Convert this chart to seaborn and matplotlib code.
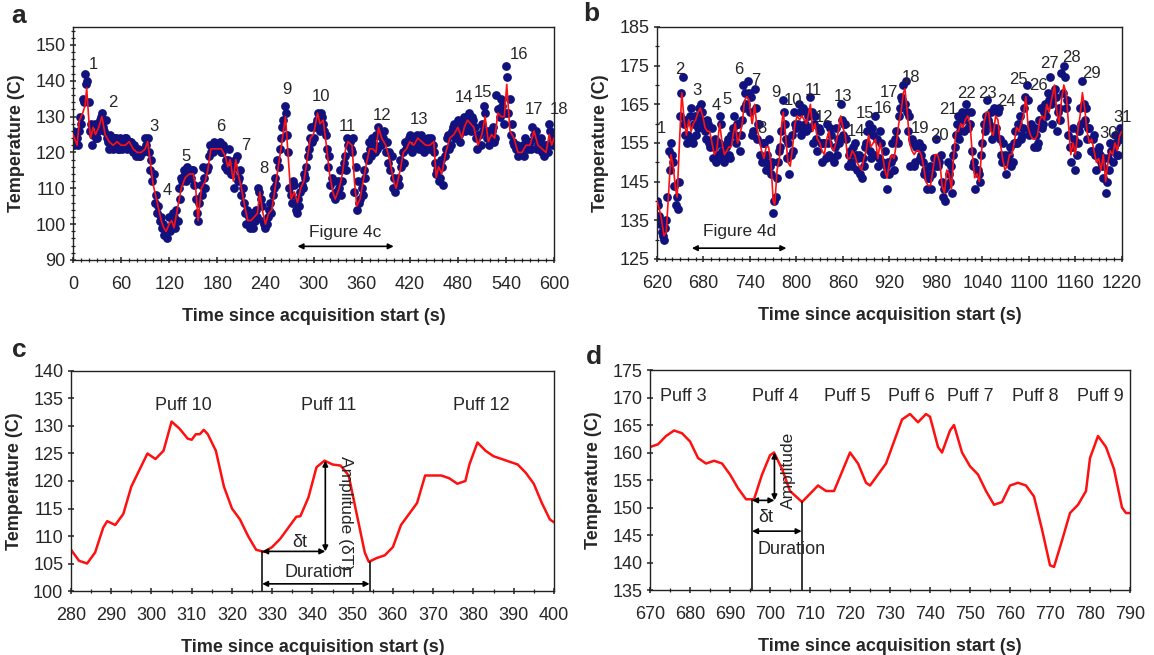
import numpy as np
import matplotlib.pyplot as plt
import seaborn as sns
from matplotlib.ticker import MultipleLocator

sns.set_style("ticks")
plt.rcParams['font.family'] = ['Liberation Sans', 'DejaVu Sans']

# ---------------- panel a : raw samples and smoothed trace, 0-600 s
# samples read at t = 0, 3, 6 ... 600
a_dot_t = np.arange(0, 601, 3)
a_dot_T = [126, 123, 122, 130, 135, 142, 140, 126, 122, 128,
           124, 129, 131, 126, 124, 121, 124, 122, 124, 121,
           123, 122, 124, 122, 123, 120, 119, 121, 119, 120,
           124, 124, 115, 112, 106, 103, 101, 99, 97, 96,
           102, 100, 102, 104, 110, 113, 115, 112, 115, 113,
           115, 107, 101, 111, 116, 110, 116, 122, 120, 122,
           121, 123, 120, 116, 115, 121, 114, 110, 119, 113,
           108, 106, 100, 102, 100, 99, 104, 110, 107, 101,
           99, 102, 106, 108, 113, 118, 121, 127, 133, 125,
           110, 106, 111, 103, 105, 111, 114, 116, 121, 127,
           124, 128, 131, 131, 128, 125, 116, 111, 108, 107,
           112, 115, 112, 119, 124, 123, 120, 109, 104, 106,
           110, 115, 119, 123, 119, 122, 125, 127, 122, 124,
           120, 117, 115, 110, 109, 113, 118, 120, 123, 122,
           125, 120, 124, 125, 121, 124, 120, 122, 121, 124,
           120, 114, 112, 118, 111, 121, 125, 122, 127, 124,
           129, 123, 128, 126, 130, 128, 130, 127, 121, 125,
           128, 133, 124, 122, 126, 123, 136, 132, 135, 128,
           144, 131, 125, 123, 121, 119, 120, 122, 124, 121,
           123, 127, 124, 121, 123, 120, 119, 122, 128, 124,
           125]
# samples read at t = 1.5, 4.5 ... 598.5
a_dot2_t = np.arange(1.5, 600, 3)
a_dot2_T = [122, 124, 126, 128, 134, 139, 134, 128, 125, 124,
            126, 130, 127, 129, 123, 125, 121, 124, 121, 124,
            121, 124, 121, 123, 121, 122, 120, 119, 120, 121,
            122, 120, 118, 114, 108, 105, 102, 100, 99, 98,
            98, 103, 99, 101, 107, 112, 114, 116, 113, 115,
            111, 103, 106, 108, 113, 115, 119, 120, 123, 121,
            122, 120, 122, 118, 118, 114, 116, 118, 112, 115,
            110, 103, 104, 99, 103, 101, 102, 109, 105, 100,
            100, 104, 103, 110, 111, 116, 124, 129, 131, 120,
            108, 112, 104, 107, 109, 110, 113, 119, 124, 123,
            127, 129, 126, 130, 126, 121, 119, 113, 112, 109,
            110, 108, 117, 115, 122, 121, 124, 116, 112, 107,
            108, 113, 118, 121, 124, 120, 121, 125, 124, 126,
            123, 120, 119, 113, 112, 111, 116, 117, 121, 124,
            121, 124, 122, 123, 125, 122, 123, 124, 123, 122,
            117, 115, 113, 116, 119, 124, 121, 126, 128, 127,
            125, 127, 130, 127, 131, 126, 129, 124, 125, 122,
            126, 131, 126, 125, 127, 124, 132, 130, 133, 131,
            141, 135, 128, 122, 122, 120, 121, 119, 123, 123,
            121, 125, 126, 122, 124, 121, 122, 120, 126, 122]
a_line_t = [0, 5, 8, 12, 15, 17, 20, 22, 25, 28,
            32, 36, 40, 45, 50, 55, 60, 65, 70, 75,
            80, 85, 90, 93, 96, 100, 105, 110, 113, 116,
            120, 123, 126, 130, 135, 140, 145, 150, 153, 156,
            160, 165, 168, 172, 176, 180, 185, 190, 193, 196,
            200, 203, 206, 210, 215, 218, 222, 226, 230, 233,
            236, 240, 244, 248, 252, 256, 260, 265, 268, 272,
            276, 280, 284, 288, 292, 296, 300, 305, 308, 312,
            316, 320, 324, 327, 332, 336, 340, 343, 348, 351,
            354, 358, 362, 366, 370, 374, 378, 381, 385, 390,
            395, 400, 403, 408, 412, 416, 420, 425, 430, 435,
            440, 445, 450, 453, 456, 460, 465, 470, 475, 480,
            485, 488, 492, 496, 500, 505, 510, 514, 518, 522,
            526, 530, 534, 538, 541, 545, 550, 555, 560, 565,
            570, 575, 580, 585, 590, 594, 597, 600]
a_line_T = [125, 122, 129, 131, 133, 138, 128, 124, 127, 125,
            127, 130, 125, 123, 122, 123, 122, 122, 123, 121,
            120, 120, 121, 123, 118, 111, 106, 101, 99, 98,
            100, 101, 99, 104, 110, 113, 114, 114, 110, 101,
            110, 112, 115, 121, 121, 121, 121, 119, 116, 118,
            112, 118, 114, 110, 104, 101, 101, 102, 103, 109,
            104, 100, 103, 104, 110, 116, 122, 130, 120, 107,
            109, 106, 110, 112, 118, 124, 125, 131, 128, 129,
            122, 114, 109, 107, 110, 114, 121, 123, 122, 112,
            105, 107, 112, 117, 121, 121, 120, 127, 124, 122,
            118, 112, 110, 115, 120, 121, 123, 122, 124, 123,
            122, 122, 123, 113, 116, 114, 120, 124, 125, 127,
            124, 127, 129, 128, 127, 122, 125, 130, 123, 125,
            124, 131, 130, 130, 139, 126, 124, 120, 120, 122,
            122, 126, 122, 121, 120, 125, 122, 124]
a_lab = [str(i) for i in range(1, 19)]
a_lab_t = [25, 50, 101, 118, 141, 184, 215, 238, 267, 309, 342, 385, 431, 488, 511, 556, 575, 606]
a_lab_T = [144.4, 133.8, 127.1, 109.5, 119, 127.3, 121.8, 115.5, 137.5, 135.5,
           127.3, 130.3, 129.2, 135.2, 136.8, 147.2, 132.1, 132.1]

# ---------------- panel b : 620-1220 s
b_dot_t = np.arange(620, 1221, 3)
b_dot_T = [140, 136, 132, 130, 135, 153, 155, 150, 139, 138,
           162, 172, 157, 155, 162, 156, 160, 157, 164, 165,
           160, 156, 160, 154, 151, 156, 152, 162, 153, 150,
           155, 152, 157, 162, 155, 160, 157, 170, 168, 171,
           163, 157, 169, 156, 160, 150, 155, 148, 156, 147,
           137, 141, 150, 154, 166, 160, 151, 147, 157, 163,
           159, 165, 157, 164, 158, 162, 167, 155, 162, 153,
           158, 150, 155, 160, 152, 157, 150, 159, 156, 165,
           157, 160, 149, 153, 149, 155, 148, 152, 146, 149,
           155, 160, 151, 157, 162, 149, 158, 150, 153, 143,
           147, 155, 148, 158, 162, 167, 170, 171, 158, 149,
           155, 150, 154, 151, 154, 147, 143, 146, 143, 151,
           156, 149, 152, 141, 140, 150, 145, 142, 154, 160,
           156, 163, 158, 165, 159, 163, 149, 143, 148, 145,
           155, 158, 166, 160, 156, 164, 159, 164, 152, 155,
           147, 150, 154, 150, 158, 155, 162, 157, 164, 170,
           157, 160, 154, 157, 155, 164, 160, 165, 168, 172,
           160, 169, 158, 164, 173, 175, 164, 157, 150, 159,
           148, 155, 164, 171, 161, 156, 159, 153, 157, 148,
           154, 150, 146, 142, 151, 155, 150, 157, 152, 159,
           158]
b_dot2_t = np.arange(621.5, 1220, 3)
b_dot2_T = [139, 134, 131, 133, 141, 148, 152, 144, 141, 145,
            168, 160, 161, 157, 164, 155, 162, 159, 161, 163,
            158, 161, 155, 159, 154, 150, 155, 160, 151, 154,
            156, 151, 159, 157, 160, 153, 161, 164, 165, 168,
            167, 158, 164, 160, 152, 155, 150, 152, 149, 150,
            140, 146, 153, 158, 163, 156, 155, 152, 153, 160,
            160, 163, 159, 160, 163, 159, 163, 160, 156, 159,
            155, 155, 151, 155, 159, 151, 154, 152, 155, 161,
            160, 156, 152, 150, 154, 152, 151, 147, 151, 154,
            158, 153, 159, 152, 156, 151, 155, 147, 149, 150,
            150, 151, 156, 155, 164, 166, 165, 163, 162, 156,
            149, 154, 155, 152, 150, 148, 146, 149, 147, 149,
            150, 150, 145, 143, 144, 147, 149, 152, 157, 162,
            158, 161, 162, 163, 160, 153, 150, 148, 147, 152,
            160, 162, 161, 163, 159, 157, 163, 156, 150, 152,
            150, 152, 149, 155, 155, 160, 156, 159, 167, 166,
            158, 158, 159, 154, 161, 159, 163, 162, 166, 165,
            167, 167, 163, 161, 168, 172, 166, 154, 154, 156,
            152, 158, 160, 165, 164, 159, 153, 156, 152, 153,
            152, 149, 151, 145, 148, 153, 154, 155, 152, 156]
b_line_t = [620, 623, 626, 629, 632, 635, 638, 641, 644, 646,
            649, 652, 655, 658, 661, 664, 667, 670, 673, 676,
            679, 682, 685, 688, 691, 694, 697, 701, 704, 707,
            710, 713, 716, 719, 721, 724, 727, 730, 733, 736,
            739, 742, 743, 746, 749, 752, 755, 758, 761, 764,
            767, 770, 772, 775, 778, 781, 783, 786, 789, 792,
            795, 798, 801, 804, 807, 810, 813, 816, 818, 821,
            824, 827, 830, 833, 836, 839, 842, 845, 848, 851,
            854, 857, 860, 863, 866, 869, 872, 875, 878, 881,
            884, 887, 890, 893, 896, 899, 902, 905, 908, 911,
            914, 917, 920, 923, 926, 929, 932, 935, 938, 940,
            943, 946, 949, 952, 955, 958, 961, 964, 967, 970,
            973, 976, 979, 982, 985, 988, 991, 994, 997, 1000,
            1003, 1006, 1009, 1012, 1015, 1018, 1021, 1024, 1027, 1030,
            1033, 1036, 1039, 1042, 1045, 1048, 1051, 1054, 1057, 1060,
            1063, 1066, 1069, 1072, 1075, 1078, 1081, 1084, 1087, 1090,
            1093, 1096, 1099, 1102, 1105, 1108, 1111, 1114, 1117, 1120,
            1123, 1126, 1129, 1133, 1136, 1139, 1142, 1145, 1148, 1151,
            1154, 1157, 1160, 1163, 1166, 1169, 1172, 1175, 1178, 1181,
            1184, 1187, 1190, 1193, 1196, 1199, 1202, 1205, 1208, 1211,
            1214, 1217, 1220]
b_line_T = [140, 138, 135, 131, 132, 142, 152, 149, 143, 141,
            155, 168, 161, 157, 161, 158, 160, 161, 163, 164,
            162, 159, 158, 158, 155, 152, 153, 160, 155, 152,
            153, 154, 154, 158, 160, 155, 157, 160, 166, 167,
            166, 161, 160, 165, 159, 156, 153, 151, 154, 154,
            150, 140, 139, 148, 151, 160, 163, 157, 150, 149,
            154, 160, 162, 161, 162, 161, 160, 163, 165, 158,
            160, 156, 155, 153, 152, 156, 158, 154, 153, 155,
            158, 162, 159, 157, 151, 151, 153, 152, 150, 149,
            148, 151, 153, 157, 154, 155, 156, 151, 155, 152,
            148, 146, 150, 152, 151, 155, 160, 163, 168, 169,
            163, 155, 153, 152, 153, 153, 152, 149, 145, 144,
            144, 148, 152, 152, 150, 144, 142, 148, 147, 143,
            152, 158, 158, 160, 159, 161, 162, 160, 152, 146,
            147, 145, 153, 160, 163, 163, 158, 157, 162, 161,
            155, 151, 148, 149, 152, 152, 155, 159, 158, 160,
            162, 167, 159, 157, 156, 156, 157, 161, 162, 161,
            165, 163, 166, 170, 163, 160, 166, 170, 168, 160,
            152, 155, 152, 158, 162, 168, 164, 158, 155, 156,
            153, 150, 151, 148, 152, 145, 150, 153, 152, 155,
            153, 157, 158]
b_lab = [str(i) for i in range(1, 32)]
b_lab_t = [626, 650, 672, 696, 710, 726, 747, 756, 774, 796, 822, 835, 860, 877, 889, 912,
           920, 948, 960, 985, 996, 1020, 1047, 1071, 1087, 1112, 1127, 1155, 1181, 1203, 1221]
b_lab_T = [158.8, 174.1, 168.5, 164.6, 166.3, 174.1, 171.1, 158.8, 168, 166, 168.6, 161.7,
           167, 158, 162.7, 163.8, 168, 172, 158.7, 156.9, 163.6, 167.9, 167.9, 165.6,
           171.3, 169.9, 175.6, 177.2, 173, 157.4, 161.7]

# ---------------- panel c : zoom 280-400 s
c_t = [280, 282, 284, 286, 288, 289, 291, 293, 295, 297,
       299, 301, 303, 305, 307, 309, 310, 311, 312, 313,
       314, 316, 318, 320, 322, 324, 326, 328, 330, 332,
       334, 336, 337, 339, 341, 343, 345, 347, 349, 351,
       353, 354, 356, 358, 360, 362, 364, 366, 368, 370,
       372, 374, 376, 378, 379, 381, 383, 385, 387, 389,
       391, 393, 395, 397, 399, 400]
c_T = [107.5, 105.5, 105, 107, 111.5, 112.7, 112, 114, 119, 122,
       125, 124, 125.5, 130.8, 129.5, 127.7, 127.5, 128.5, 128.5, 129.3,
       128.5, 125.5, 119, 115, 113, 110, 107.5, 107.1, 108, 109.5,
       111.5, 113.5, 113.6, 117, 122.5, 123.7, 123, 122.8, 121, 114,
       107, 105.3, 106, 106.5, 108, 112, 114, 116, 121, 121,
       121, 120.5, 119.5, 120, 123, 127, 125.5, 124.5, 124, 123.5,
       123, 121.5, 119.5, 116, 113, 112.5]
c_puffs = ['Puff 10', 'Puff 11', 'Puff 12']
c_puff_t = [308, 344, 382]
c_start, c_peak, c_end = 327.5, 343.2, 354.2
c_Tmin, c_Tpeak, c_Tend = 107.2, 123.7, 105.3

# ---------------- panel d : zoom 670-790 s
d_t = [670, 672, 674, 676, 678, 680, 682, 684, 686, 688,
       690, 692, 694, 696, 698, 700, 701, 703, 705, 708,
       710, 712, 714, 716, 718, 720, 722, 724, 725, 727,
       729, 731, 733, 735, 737, 739, 740, 742, 743, 745,
       746, 748, 750, 752, 754, 756, 758, 760, 762, 764,
       766, 768, 770, 771, 773, 775, 777, 779, 780, 782,
       784, 786, 788, 789, 790]
d_T = [161, 161.5, 163, 164, 163.5, 162, 159, 158, 158.5, 158,
       156, 153.5, 151.5, 151.5, 156, 159.5, 160, 157, 153, 151,
       152.5, 154, 153, 153, 156.5, 160, 158, 154.5, 154, 156,
       158, 162, 166, 167, 165.5, 167, 166.5, 161, 160, 164,
       165, 160, 157.5, 156, 153, 150.5, 151, 154, 154.5, 154,
       152, 146, 139.5, 139.2, 144, 149, 150.5, 153, 159, 163,
       161, 157, 150, 149, 149]
d_puffs = ['Puff 3', 'Puff 4', 'Puff 5', 'Puff 6', 'Puff 7', 'Puff 8', 'Puff 9']
d_puff_t = [678.3, 701.4, 719.4, 735.4, 750.1, 766.3, 782.5]
d_start, d_peak, d_end = 695.5, 701.1, 707.9
d_Tmin, d_Tpeak, d_Tend = 151.3, 160.0, 151.0

DOT = '#12127f'
RED = '#ff1010'
XLAB = 'Time since acquisition start (s)'
YLAB = 'Temperature (C)'

fig = plt.figure(figsize=(11.54, 6.55), dpi=100)
ax_a = fig.add_axes([0.0633, 0.6031, 0.4168, 0.3557])
ax_b = fig.add_axes([0.5693, 0.6046, 0.4029, 0.3542])
ax_c = fig.add_axes([0.0615, 0.0977, 0.4185, 0.3359])
ax_d = fig.add_axes([0.5633, 0.0992, 0.4159, 0.3359])


def style(ax, xlim, ylim, xmaj, xmin, ymaj, ymin, xoff=0, yoff=0):
    ax.set_xlim(*xlim)
    ax.set_ylim(*ylim)
    ax.xaxis.set_major_locator(MultipleLocator(xmaj, offset=xoff))
    ax.xaxis.set_minor_locator(MultipleLocator(xmin))
    ax.yaxis.set_major_locator(MultipleLocator(ymaj, offset=yoff))
    if ymin:
        ax.yaxis.set_minor_locator(MultipleLocator(ymin))
    ax.tick_params(which='major', direction='inout', length=5, width=1.1,
                   labelsize=13, color='#222222', pad=9)
    ax.tick_params(axis='y', which='major', pad=3)
    ax.tick_params(which='minor', direction='inout', length=3, width=0.9, color='#222222')
    for s in ax.spines.values():
        s.set_visible(True)
        s.set_linewidth(1.0)
        s.set_color('#222222')
    ax.set_xlabel(XLAB, fontsize=13, fontweight='bold', labelpad=11)
    ax.set_ylabel(YLAB, fontsize=13, fontweight='bold', labelpad=7)


def arrow(ax, p0, p1):
    ax.annotate('', xy=p1, xytext=p0,
                arrowprops=dict(arrowstyle='<|-|>', color='black', lw=1.2,
                                mutation_scale=8, shrinkA=0, shrinkB=0))


# panel a
sns.scatterplot(x=a_dot_t, y=a_dot_T, ax=ax_a, color=DOT, s=40, linewidth=0, zorder=2)
sns.scatterplot(x=a_dot2_t, y=a_dot2_T, ax=ax_a, color=DOT, s=40, linewidth=0, zorder=2)
sns.lineplot(x=a_line_t, y=a_line_T, ax=ax_a, color=RED, lw=1.2, estimator=None, zorder=3)
style(ax_a, (0, 600), (90, 155), 60, 10, 10, 2)
for lab, t, T in zip(a_lab, a_lab_t, a_lab_T):
    ax_a.text(t, T, lab, fontsize=12, ha='center', va='center')
ax_a.text(340, 97.7, 'Figure 4c', fontsize=12.5, ha='center', va='center')
arrow(ax_a, (280, 93.8), (400, 93.8))

# panel b
sns.scatterplot(x=b_dot_t, y=b_dot_T, ax=ax_b, color=DOT, s=40, linewidth=0, zorder=2)
sns.scatterplot(x=b_dot2_t, y=b_dot2_T, ax=ax_b, color=DOT, s=40, linewidth=0, zorder=2)
sns.lineplot(x=b_line_t, y=b_line_T, ax=ax_b, color=RED, lw=1.2, estimator=None, zorder=3)
style(ax_b, (620, 1220), (125, 185), 60, 10, 10, 5, xoff=20, yoff=5)
for lab, t, T in zip(b_lab, b_lab_t, b_lab_T):
    ax_b.text(t, T, lab, fontsize=12, ha='center', va='center')
ax_b.text(727, 132, 'Figure 4d', fontsize=12.5, ha='center', va='center')
arrow(ax_b, (665, 127.8), (787, 127.8))

# panel c
sns.lineplot(x=c_t, y=c_T, ax=ax_c, color=RED, lw=1.8, estimator=None)
style(ax_c, (280, 400), (100, 140), 10, 5, 5, None)
for lab, t in zip(c_puffs, c_puff_t):
    ax_c.text(t, 133.7, lab, fontsize=13, ha='center', va='center')
ax_c.plot([c_start, c_start], [100, c_Tmin], color='black', lw=1.1)
ax_c.plot([c_end, c_end], [100, c_Tend], color='black', lw=1.1)
arrow(ax_c, (c_start, c_Tmin), (c_peak, c_Tmin))
arrow(ax_c, (c_peak, c_Tmin), (c_peak, c_Tpeak))
arrow(ax_c, (c_start, 101.3), (c_end, 101.3))
ax_c.text(336.8, 108.9, '\u03b4t', fontsize=13, ha='center', va='center')
ax_c.text(341.4, 103.3, 'Duration', fontsize=13, ha='center', va='center')
ax_c.text(348.3, 114.2, 'Amplitude (\u03b4T)', fontsize=12.5, ha='center', va='center',
          rotation=270)

# panel d
sns.lineplot(x=d_t, y=d_T, ax=ax_d, color=RED, lw=1.8, estimator=None)
style(ax_d, (670, 790), (135, 175), 10, 5, 5, None)
for lab, t in zip(d_puffs, d_puff_t):
    ax_d.text(t, 170.2, lab, fontsize=13, ha='center', va='center')
ax_d.plot([d_start, d_start], [135, d_Tmin], color='black', lw=1.1)
ax_d.plot([d_end, d_end], [135, d_Tend], color='black', lw=1.1)
arrow(ax_d, (d_start, d_Tmin), (d_peak, d_Tmin))
arrow(ax_d, (d_peak, d_Tmin), (d_peak, d_Tpeak))
arrow(ax_d, (d_start, 145.7), (d_end, 145.7))
ax_d.text(699, 148.1, '\u03b4t', fontsize=13, ha='center', va='center')
ax_d.text(705.5, 142.4, 'Duration', fontsize=13, ha='center', va='center')
ax_d.text(704.6, 156.7, 'Amplitude', fontsize=12.5, ha='center', va='center', rotation=90)

# panel letters
for lab, x, y in [('a', 0.016, 0.975), ('b', 0.512, 0.978), ('c', 0.017, 0.466), ('d', 0.515, 0.455)]:
    fig.text(x, y, lab, fontsize=19, fontweight='bold', ha='center', va='center')

fig.savefig('out.png', dpi=100)
